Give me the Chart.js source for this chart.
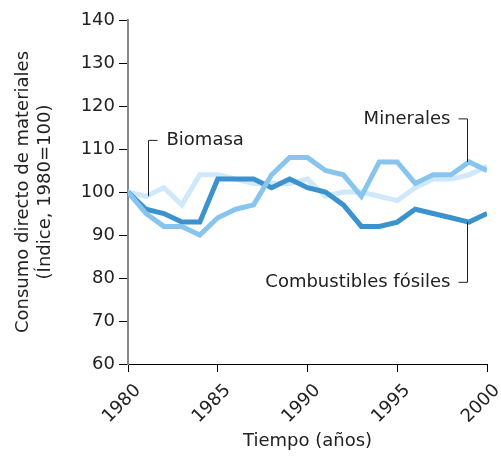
<html>
<head>
<script src="https://cdn.jsdelivr.net/npm/chart.js"></script>
<style>
  body { margin: 0; background: #fff; }
  #wrap { width: 501px; height: 457px; }
</style>
</head>
<body>
<div id="wrap"><canvas id="lineChart" width="501" height="457"></canvas></div>
<script>
// values (index, 1980 = 100)
const years = [1980, 1981, 1982, 1983, 1984, 1985, 1986, 1987, 1988, 1989, 1990,
               1991, 1992, 1993, 1994, 1995, 1996, 1997, 1998, 1999, 2000];
const biomasa = [100, 99, 101, 97, 104, 104, 103, 102, 102, 102, 103,
                 99, 100, 100, 99, 98, 101, 103, 103, 104, 106];
const minerales = [100, 95, 92, 92, 90, 94, 96, 97, 104, 108, 108,
                   105, 104, 99, 107, 107, 102, 104, 104, 107, 105];
const combustibles = [100, 96, 95, 93, 93, 103, 103, 103, 101, 103, 101,
                      100, 97, 92, 92, 93, 96, 95, 94, 93, 95];
const yTicks = [60, 70, 80, 90, 100, 110, 120, 130, 140];

const FONT = "'DejaVu Sans', Verdana, sans-serif";

function pts(vals) {
    return years.map((y, i) => ({x: y, y: vals[i]}));
}

// callout labels with little leader lines
const callouts = {
    id: 'callouts',
    afterDatasetsDraw(chart) {
        const ctx = chart.ctx;
        const x = chart.scales.x, y = chart.scales.y;
        ctx.save();
        ctx.strokeStyle = '#222';
        ctx.lineWidth = 1;
        ctx.fillStyle = '#222';
        ctx.font = '18px ' + FONT;
        ctx.textBaseline = 'middle';

        // Biomasa
        let px = Math.round(x.getPixelForValue(1981)) + 2.5;
        let top = y.getPixelForValue(112);
        ctx.beginPath();
        ctx.moveTo(px, y.getPixelForValue(biomasa[1]));
        ctx.lineTo(px, top);
        ctx.lineTo(px + 9, top);
        ctx.stroke();
        ctx.textAlign = 'left';
        ctx.fillText('Biomasa', px + 18, top);

        // Minerales
        px = Math.round(x.getPixelForValue(1999)) - 1.5;
        top = y.getPixelForValue(117);
        ctx.beginPath();
        ctx.moveTo(px, y.getPixelForValue(minerales[19]));
        ctx.lineTo(px, top);
        ctx.lineTo(px - 9, top);
        ctx.stroke();
        ctx.textAlign = 'right';
        ctx.fillText('Minerales', px - 17, top);

        // Combustibles fósiles
        let bot = y.getPixelForValue(79);
        ctx.beginPath();
        ctx.moveTo(px, y.getPixelForValue(combustibles[19]));
        ctx.lineTo(px, bot);
        ctx.lineTo(px - 9, bot);
        ctx.stroke();
        ctx.fillText('Combustibles fósiles', px - 17, bot);
        ctx.restore();
    }
};

const ctx = document.getElementById('lineChart').getContext('2d');
new Chart(ctx, {
    type: 'line',
    data: {
        datasets: [
            {label: 'Biomasa', data: pts(biomasa), borderColor: '#cfe8fb', order: 3},
            {label: 'Combustibles fósiles', data: pts(combustibles), borderColor: '#3b92cc', order: 2},
            {label: 'Minerales', data: pts(minerales), borderColor: '#87c5ef', order: 1}
        ]
    },
    options: {
        responsive: false,
        animation: false,
        layout: {padding: {top: 20, right: 14, left: 0, bottom: 0}},
        elements: {
            line: {borderWidth: 5, tension: 0, borderJoinStyle: 'miter', borderCapStyle: 'butt'},
            point: {radius: 0}
        },
        plugins: {legend: {display: false}, tooltip: {enabled: false}},
        scales: {
            x: {
                type: 'linear',
                min: 1980, max: 2000,
                afterFit: s => { s.height = 93; s.paddingRight = 0; s.paddingLeft = 0; },
                border: {display: true, color: '#000', width: 1},
                grid: {display: true, drawOnChartArea: false, drawTicks: true, tickLength: 8, color: '#000'},
                ticks: {
                    stepSize: 5, minRotation: 45, maxRotation: 45, padding: 8, labelOffset: 10,
                    color: '#222', font: {family: FONT, size: 18},
                    callback: v => String(v)
                },
                title: {
                    display: true, text: 'Tiempo (años)', color: '#222',
                    font: {family: FONT, size: 18}, padding: {top: 0, bottom: 5}
                }
            },
            y: {
                min: 60, max: 140,
                afterFit: s => { s.width = 128; },
                afterBuildTicks: s => { s.ticks = yTicks.map(v => ({value: v})); },
                border: {display: true, color: '#888', width: 2},
                grid: {display: true, drawOnChartArea: false, drawTicks: true, tickLength: 9, color: '#000'},
                ticks: {color: '#222', padding: 4, font: {family: FONT, size: 18}},
                title: {
                    display: true, text: ['Consumo directo de materiales', '(Índice, 1980=100)'],
                    color: '#222', font: {family: FONT, size: 18}, padding: {top: 13, bottom: 0}
                }
            }
        }
    },
    plugins: [callouts]
});
</script>
</body>
</html>
